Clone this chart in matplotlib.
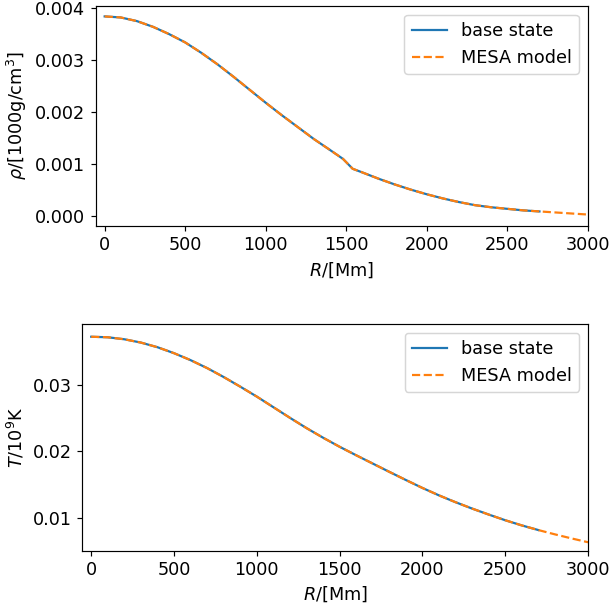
import matplotlib
matplotlib.use('Agg')
import matplotlib.pyplot as plt
import numpy as np

plt.rcParams['font.size'] = 12

# radius in Mm
r_mesa = [0, 100, 200, 300, 400, 500, 600, 700, 800, 900, 1000, 1100, 1200, 1300,
          1400, 1480, 1540, 1600, 1700, 1800, 1900, 2000, 2100, 2200, 2300, 2400,
          2500, 2600, 2700, 2800, 2900, 3000]
# density in 1000 g/cm^3
rho_mesa = [0.00384, 0.00382, 0.00375, 0.00364, 0.00350, 0.00334, 0.00314, 0.00292,
            0.00268, 0.00243, 0.00218, 0.00194, 0.00171, 0.00148, 0.00127, 0.00110,
            0.00091, 0.00084, 0.00072, 0.00061, 0.00051, 0.00042, 0.00034, 0.00027,
            0.00021, 0.00017, 0.00014, 0.00011, 0.00009, 0.00007, 0.00005, 0.00003]

r_temp = [0, 100, 200, 300, 400, 500, 600, 700, 800, 900, 1000, 1100, 1200, 1300,
          1400, 1500, 1600, 1700, 1800, 1900, 2000, 2100, 2200, 2300, 2400, 2500,
          2600, 2700, 2800, 2900, 3000]
# temperature in 1e9 K
t_mesa = [0.03728, 0.03720, 0.03690, 0.03640, 0.03570, 0.03480, 0.03375, 0.03255,
          0.03120, 0.02975, 0.02825, 0.02665, 0.02505, 0.02350, 0.02205, 0.02068,
          0.01940, 0.01815, 0.01690, 0.01567, 0.01447, 0.01335, 0.01232, 0.01136,
          0.01046, 0.00960, 0.00882, 0.00812, 0.00747, 0.00686, 0.00628]

r_base_max = 2700

dpi = 106
fig = plt.figure(figsize=(611 / dpi, 607 / dpi), dpi=dpi)
ax1 = fig.add_axes([0.1568, 0.6277, 0.8052, 0.3624])
ax2 = fig.add_axes([0.1344, 0.0927, 0.8280, 0.3735])

r1 = np.array(r_mesa)
m1 = r1 <= r_base_max
ax1.plot(r1[m1], np.array(rho_mesa)[m1], label='base state')
ax1.plot(r1, rho_mesa, '--', label='MESA model')
ax1.set_xlim(-55, 3000)
ax1.set_ylim(-0.00019, 0.00404)
ax1.set_yticks([0, 0.001, 0.002, 0.003, 0.004])
ax1.set_xlabel(r'$R$/[Mm]')
ax1.set_ylabel(r'$\rho$/[1000g/cm$^3$]')
ax1.legend(loc='upper right')

r2 = np.array(r_temp)
m2 = r2 <= r_base_max
ax2.plot(r2[m2], np.array(t_mesa)[m2], label='base state')
ax2.plot(r2, t_mesa, '--', label='MESA model')
ax2.set_xlim(-55, 3000)
ax2.set_ylim(0.0050, 0.0392)
ax2.set_yticks([0.01, 0.02, 0.03])
ax2.set_xlabel(r'$R$/[Mm]')
ax2.set_ylabel(r'$T$/10$^9$K')
ax2.legend(loc='upper right')

fig.savefig('out.png', dpi=dpi)
